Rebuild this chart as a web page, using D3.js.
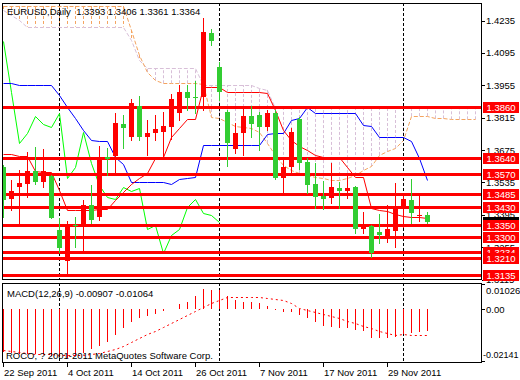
<!DOCTYPE html>
<html><head><meta charset="utf-8">
<script src="https://cdn.jsdelivr.net/npm/d3@7/dist/d3.min.js"></script>
<style>body{margin:0;background:#fff}svg{display:block}text{font-family:"Liberation Sans",Arial,sans-serif}</style>
</head><body>
<svg id="c" width="520" height="380"></svg>
<script>
// ---------- data ----------
const dates = ["22 Sep 2011","23 Sep","26 Sep","27 Sep","28 Sep","29 Sep","30 Sep","3 Oct","4 Oct 2011","5 Oct","6 Oct","7 Oct","10 Oct","11 Oct","12 Oct","13 Oct","14 Oct 2011","17 Oct","18 Oct","19 Oct","20 Oct","21 Oct","24 Oct","25 Oct","26 Oct 2011","27 Oct","28 Oct","31 Oct","1 Nov","2 Nov","3 Nov","4 Nov","7 Nov 2011","8 Nov","9 Nov","10 Nov","11 Nov","14 Nov","15 Nov","16 Nov","17 Nov 2011","18 Nov","21 Nov","22 Nov","23 Nov","24 Nov","25 Nov","28 Nov","29 Nov 2011","30 Nov","1 Dec","2 Dec","5 Dec","6 Dec"];
const openP  = [1.3602,1.3464,1.3517,1.3530,1.3585,1.3538,1.3563,1.3330,1.3197,1.3351,1.3344,1.3438,1.3384,1.3645,1.3650,1.3788,1.3733,1.3866,1.3732,1.3750,1.3755,1.3774,1.3837,1.3927,1.3905,1.3903,1.4183,1.4033,1.3841,1.3678,1.3750,1.3822,1.3827,1.3776,1.3834,1.3553,1.3601,1.3808,1.3622,1.3528,1.3478,1.3467,1.3512,1.3499,1.3514,1.3335,1.3347,1.3322,1.3294,1.3326,1.3430,1.3459,1.3390,1.3393];
const highP  = [1.3611,1.3546,1.3589,1.3667,1.3687,1.3680,1.3567,1.3381,1.3370,1.3386,1.3459,1.3524,1.3693,1.3684,1.3834,1.3827,1.3895,1.3909,1.3805,1.3827,1.3841,1.3918,1.3956,1.3956,1.3974,1.4245,1.4197,1.4057,1.3848,1.3792,1.3863,1.3866,1.3840,1.3848,1.3848,1.3646,1.3771,1.3818,1.3640,1.3618,1.3541,1.3618,1.3538,1.3575,1.3520,1.3409,1.3350,1.3399,1.3438,1.3531,1.3481,1.3549,1.3484,1.3406];
const lowP   = [1.3386,1.3416,1.3360,1.3472,1.3528,1.3517,1.3381,1.3234,1.3145,1.3256,1.3240,1.3358,1.3373,1.3567,1.3575,1.3684,1.3719,1.3719,1.3654,1.3719,1.3646,1.3723,1.3805,1.3848,1.3835,1.3848,1.4129,1.3892,1.3606,1.3661,1.3654,1.3732,1.3675,1.3762,1.3549,1.3491,1.3577,1.3592,1.3488,1.3426,1.3419,1.3445,1.3426,1.3467,1.3318,1.3315,1.3211,1.3272,1.3279,1.3257,1.3344,1.3361,1.3370,1.3361];
const closeP = [1.3459,1.3498,1.3534,1.3585,1.3536,1.3585,1.3383,1.3250,1.3351,1.3347,1.3438,1.3373,1.3644,1.3636,1.3791,1.3772,1.3877,1.3733,1.3750,1.3765,1.3779,1.3896,1.3927,1.3899,1.3900,1.4187,1.4148,1.3926,1.3704,1.3748,1.3822,1.3788,1.3775,1.3834,1.3553,1.3603,1.3755,1.3620,1.3524,1.3473,1.3464,1.3517,1.3499,1.3512,1.3335,1.3351,1.3231,1.3308,1.3333,1.3428,1.3462,1.3402,1.3394,1.3364];
const tenkan = [1.3658,1.3658,1.3651,1.3651,1.3585,1.3579,1.3579,1.3502,1.3416,1.3416,1.3416,1.3416,1.3419,1.3419,1.3459,1.3494,1.3528,1.3554,1.3575,1.3641,1.3646,1.3732,1.3771,1.3809,1.3809,1.3946,1.3946,1.3946,1.3927,1.3927,1.3927,1.3927,1.3927,1.3923,1.3848,1.3762,1.3719,1.3693,1.3675,1.3654,1.3646,1.3646,1.3646,1.3603,1.3560,1.3560,1.3423,1.3416,1.3412,1.3399,1.3390,1.3386,1.3384,1.3380];
const kijun  = [1.3964,1.3964,1.3956,1.3956,1.3956,1.3956,1.3956,1.3913,1.3861,1.3814,1.3762,1.3719,1.3714,1.3714,1.3645,1.3615,1.3538,1.3538,1.3538,1.3538,1.3538,1.3528,1.3549,1.3554,1.3557,1.3697,1.3697,1.3697,1.3697,1.3697,1.3697,1.3697,1.3697,1.3745,1.3748,1.3748,1.3805,1.3812,1.3860,1.3834,1.3834,1.3834,1.3834,1.3834,1.3834,1.3783,1.3779,1.3733,1.3733,1.3733,1.3733,1.3714,1.3641,1.3546];
const chikou = [1.4148,1.3926,1.3704,1.3748,1.3822,1.3788,1.3775,1.3834,1.3553,1.3603,1.3755,1.3620,1.3524,1.3473,1.3464,1.3517,1.3499,1.3512,1.3335,1.3351,1.3231,1.3308,1.3333,1.3428,1.3462,1.3402,1.3394,1.3364];
const spanA  = [1.4298,1.4298,1.4298,1.4298,1.4298,1.4298,1.4298,1.4298,1.4298,1.4298,1.4298,1.4298,1.4298,1.4298,1.4298,1.4298,1.4194,1.4086,1.4013,1.3978,1.3964,1.3964,1.3964,1.3964,1.3964,1.3960,1.3818,1.3814,1.3796,1.3779,1.3775,1.3771,1.3753,1.3706,1.3654,1.3611,1.3589,1.3576,1.3567,1.3559,1.3554,1.3546,1.3546,1.3554,1.3567,1.3589,1.3606,1.3654,1.3671,1.3684,1.3719,1.3822,1.3822,1.3822,1.3812,1.3812,1.3808,1.3808,1.3808,1.3808];
const spanB  = [1.4281,1.4259,1.4237,1.4209,1.4209,1.4209,1.4209,1.4209,1.4209,1.4209,1.4209,1.4209,1.4209,1.4209,1.4209,1.4209,1.4151,1.4065,1.4029,1.4029,1.4029,1.4029,1.4029,1.4029,1.4029,1.3956,1.3956,1.3956,1.3956,1.3956,1.3956,1.3956,1.3943,1.3935,1.3856,1.3856,1.3856,1.3856,1.3856,1.3856,1.3856,1.3856,1.3856,1.3856,1.3856,1.3856,1.3856,1.3856,1.3856,1.3856,1.3856,1.3856,1.3856,1.3856,1.3856,1.3856,1.3856,1.3856,1.3856,1.3856];
const macdHist = [-0.0175,-0.0180,-0.0185,-0.0185,-0.0185,-0.0185,-0.0190,-0.0195,-0.0200,-0.0190,-0.0180,-0.0165,-0.0150,-0.0134,-0.0106,-0.0077,-0.0052,-0.0036,-0.0028,-0.0021,-0.0009,-0.0002,0.0018,0.0029,0.0053,0.0080,0.0076,0.0076,0.0053,0.0036,0.0029,0.0029,0.0022,0.0013,-0.0005,-0.0014,-0.0014,-0.0025,-0.0039,-0.0055,-0.0069,-0.0073,-0.0077,-0.0079,-0.0086,-0.0090,-0.0117,-0.0120,-0.0117,-0.0113,-0.0104,-0.0100,-0.0096,-0.00907];
const macdSignal = [-0.0167,-0.0171,-0.0175,-0.0180,-0.0182,-0.0184,-0.0184,-0.0186,-0.0188,-0.0188,-0.0186,-0.0184,-0.0180,-0.0173,-0.0165,-0.0151,-0.0135,-0.0119,-0.0102,-0.0090,-0.0074,-0.0058,-0.0041,-0.0025,-0.0009,0.0007,0.0022,0.0036,0.0048,0.0049,0.0049,0.0049,0.0049,0.0044,0.0040,0.0034,0.0022,0.0005,-0.0005,-0.0013,-0.0021,-0.0029,-0.0037,-0.0048,-0.0058,-0.0068,-0.0078,-0.0090,-0.0100,-0.0106,-0.0104,-0.0106,-0.0106,-0.01064];
const levels = [1.3860,1.3640,1.3570,1.3485,1.3430,1.3350,1.3300,1.3234,1.3210,1.3135];
const levelLabels = ["1.3860","1.3640","1.3570","1.3485","1.3430","1.3350","1.3300","1.3234","1.3210","1.3135"];
const priceTicks = [1.4235,1.4095,1.3955,1.3815,1.3675,1.3535,1.3395,1.3255,1.3115];
const macdTicks = [0.01026,0.00,-0.02141];
const macdTickLabels = ["0.01026","0.00","-0.02141"];
const dateTickIdx = [0,8,16,24,32,40,48];
const separatorIdx = [7,27,50];
const bid = 1.3364;
const title = "EURUSD,Daily  1.3393 1.3406 1.3361 1.3364";
const macdTitle = "MACD(12,26,9) -0.00907 -0.01064";
const copyright = "ROCO, ? 2001-2011 MetaQuotes Software Corp.";

// ---------- layout ----------
const L = 2, R = 481, mainTop = 3, mainBot = 279, mTop = 283, mBot = 362;
const svg = d3.select("#c");
const x = d3.scaleLinear().domain([0, 59]).range([3, 475]);
const y = d3.scaleLinear().domain([1.31177, 1.43109]).range([279, 3]);
const ym = d3.scaleLinear().domain([-0.02141, 0.01026]).range([361.5, 283.5]);
const RED = "#ff0000", GREEN = "#32cd32", SANDY = "#f4a460", THISTLE = "#d8bfd8";

const defs = svg.append("defs");
defs.append("clipPath").attr("id","cm").append("rect").attr("x",L+1).attr("y",mainTop+1).attr("width",R-L-1).attr("height",mainBot-mainTop-1);
defs.append("clipPath").attr("id","cd").append("rect").attr("x",L+1).attr("y",mTop+1).attr("width",R-L-1).attr("height",mBot-mTop-1);

const gm = svg.append("g").attr("clip-path","url(#cm)");
const gd = svg.append("g").attr("clip-path","url(#cd)");
const px = i => Math.round(x(i)) + 0.5;

// cloud hatches (sandy where span A is above span B, thistle otherwise)
const cloudIdx = d3.range(spanA.length);
gm.selectAll(".hatch").data(cloudIdx).join("line")
  .attr("x1", px).attr("x2", px)
  .attr("y1", i => y(spanA[i])).attr("y2", i => y(spanB[i]))
  .attr("stroke", i => spanA[i] > spanB[i] ? SANDY : THISTLE)
  .attr("stroke-dasharray","3,2").attr("stroke-width",1);
const lineGen = (arr, sc) => d3.line().x((d,i)=>px(i)).y(d=>Math.round(sc(d))+0.5)(arr);
gm.append("path").attr("d", lineGen(spanB, y)).attr("fill","none").attr("stroke",THISTLE).attr("stroke-dasharray","4,2");
gm.append("path").attr("d", lineGen(spanA, y)).attr("fill","none").attr("stroke",SANDY).attr("stroke-dasharray","4,2");

// separators
[gm, gd].forEach((g, k) => {
  g.selectAll(".sep").data(separatorIdx).join("line")
    .attr("x1", px).attr("x2", px)
    .attr("y1", k ? mTop : mainTop).attr("y2", k ? mBot : mainBot)
    .attr("stroke","#000").attr("stroke-dasharray","3,2");
});

// chikou, kijun, tenkan
gm.append("path").attr("d", lineGen(chikou, y)).attr("fill","none").attr("stroke","#00ff00");
gm.append("path").attr("d", lineGen(kijun, y)).attr("fill","none").attr("stroke","#0000ff");
gm.append("path").attr("d", lineGen(tenkan, y)).attr("fill","none").attr("stroke",RED);

// horizontal levels
gm.selectAll(".lev").data(levels).join("line")
  .attr("x1", L).attr("x2", R).attr("y1", d => Math.round(y(d))+0.5).attr("y2", d => Math.round(y(d))+0.5)
  .attr("stroke", RED).attr("stroke-width", 3);

// candles
const idx = d3.range(openP.length);
const col = i => closeP[i] >= openP[i] ? RED : GREEN;
gm.selectAll(".wick").data(idx).join("line")
  .attr("x1", px).attr("x2", px)
  .attr("y1", i => Math.round(y(highP[i]))).attr("y2", i => Math.round(y(lowP[i]))+1)
  .attr("stroke", col);
gm.selectAll(".body").data(idx).join("rect")
  .attr("x", i => Math.round(x(i)) - 2).attr("width", 5)
  .attr("y", i => Math.round(y(Math.max(openP[i], closeP[i]))))
  .attr("height", i => Math.max(1, Math.round(y(Math.min(openP[i], closeP[i]))) - Math.round(y(Math.max(openP[i], closeP[i])))))
  .attr("fill", col);

// MACD
gd.selectAll(".hist").data(idx).join("line")
  .attr("x1", px).attr("x2", px)
  .attr("y1", Math.round(ym(0))).attr("y2", i => Math.round(ym(macdHist[i])))
  .attr("stroke", RED);
gd.append("path").attr("d", lineGen(macdSignal, ym)).attr("fill","none").attr("stroke",RED).attr("stroke-dasharray","2,3");

// frames
svg.append("rect").attr("x",L+0.5).attr("y",mainTop+0.5).attr("width",R-L).attr("height",mainBot-mainTop).attr("fill","none").attr("stroke","#000");
svg.append("rect").attr("x",L+0.5).attr("y",mTop+0.5).attr("width",R-L).attr("height",mBot-mTop).attr("fill","none").attr("stroke","#000");

// price axis ticks
const ax = svg.append("g");
ax.selectAll(".pt").data(priceTicks).join("line")
  .attr("x1", R+1).attr("x2", R+4).attr("y1", d => Math.round(y(d))+0.5).attr("y2", d => Math.round(y(d))+0.5).attr("stroke","#000");
ax.selectAll(".pl").data(priceTicks).join("text")
  .attr("x", R+5).attr("y", d => y(d)+3.5).attr("font-size","9.5px").attr("fill","#000")
  .text(d => d.toFixed(4));

// bid marker (mostly hidden behind the level labels)
ax.append("rect").attr("x",R+2).attr("y",Math.round(y(bid))-5).attr("width",36).attr("height",11).attr("fill","#000");

// level labels
const lab = ax.selectAll(".ll").data(levels).join("g");
lab.append("rect").attr("x",R+2).attr("y",d => Math.round(y(d))-5).attr("width",36).attr("height",11).attr("fill",RED);
lab.append("text").attr("x",R+20).attr("y",d => y(d)+4).attr("text-anchor","middle").attr("font-size","9.5px").attr("fill","#fff")
  .text((d,i) => levelLabels[i]);

// macd axis
const macdTickY = [mTop+1, Math.round(ym(0)), mBot-1];
ax.selectAll(".mt").data(macdTicks).join("line")
  .attr("x1", R+1).attr("x2", R+4).attr("y1",(d,i)=>macdTickY[i]+0.5).attr("y2",(d,i)=>macdTickY[i]+0.5).attr("stroke","#000");
ax.selectAll(".ml").data(macdTicks).join("text")
  .attr("x", (d,i) => i===2 ? R+2 : R+5).attr("y",(d,i)=> i===0 ? macdTickY[i]+10 : i===1 ? macdTickY[i]+3.5 : macdTickY[i]-3)
  .attr("font-size",(d,i)=> i===2 ? "9px" : "9.5px").attr("fill","#000").text((d,i)=>macdTickLabels[i]);

// date axis
ax.selectAll(".dt").data(dateTickIdx).join("line")
  .attr("x1", px).attr("x2", px).attr("y1", mBot+1).attr("y2", mBot+5).attr("stroke","#000");
ax.selectAll(".dl").data(dateTickIdx).join("text")
  .attr("x", i => Math.round(x(i))+1).attr("y", 375.5).attr("font-size","9.5px").attr("fill","#000")
  .text(i => dates[i]);

// titles
svg.append("text").attr("x",7).attr("y",14.5).attr("font-size","9.5px").attr("fill","#000").style("white-space","pre").text(title);
svg.append("text").attr("x",7).attr("y",296.5).attr("font-size","9.5px").attr("fill","#000").text(macdTitle);
svg.append("text").attr("x",6).attr("y",358.5).attr("font-size","9.5px").attr("fill","#000").text(copyright);
</script>
</body></html>
